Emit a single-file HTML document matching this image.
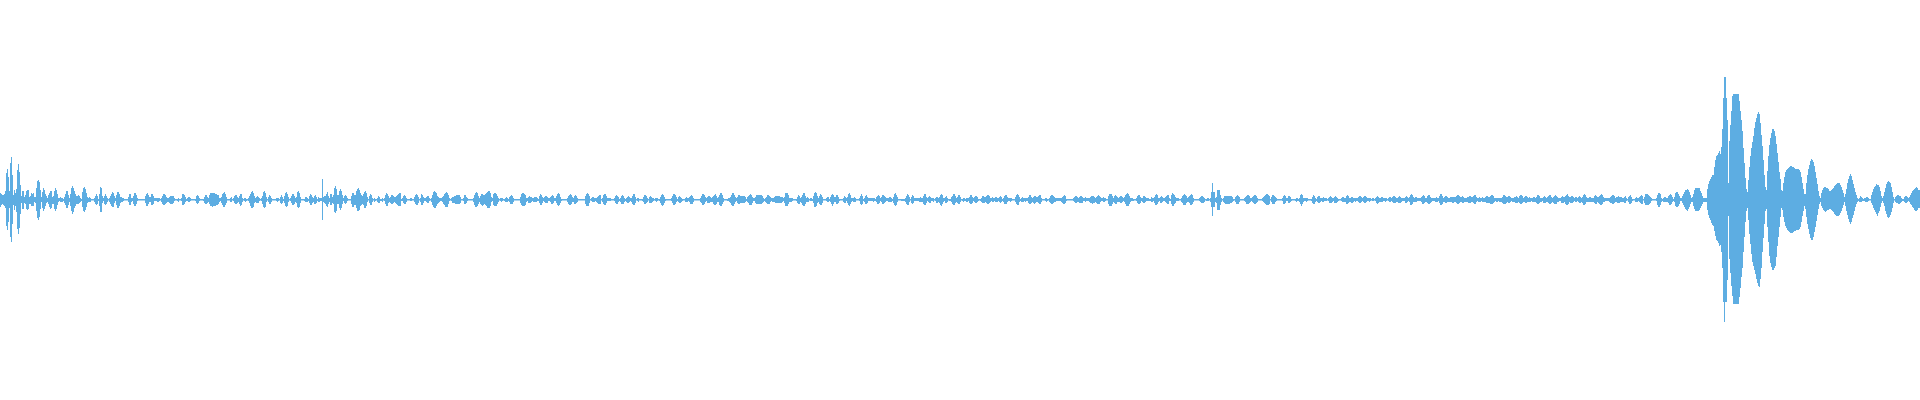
<!DOCTYPE html>
<html lang="en"><head><meta charset="utf-8"><title>Waveform</title>
<style>
html,body{margin:0;padding:0;background:#fff;}
body{width:1920px;height:400px;overflow:hidden;font-family:"Liberation Sans",sans-serif;}
svg{display:block;}
</style></head><body>
<svg width="1920" height="400" viewBox="0 0 1920 400">
<path fill="#5dade2" d="M0 193H1V194H2V195H4V194H5V191H6V173H7V169H8V177H9V191H10V163H11V157H12V175H13V195H14V190H15V193H16V189H17V170H18V164H19V172H20V185H21V196H22V191H24V197H25V195H26V191H27V190H29V197H30V196H31V193H32V194H33V193H34V197H36V188H37V181H38V180H39V182H40V190H41V197H42V192H43V188H44V190H45V194H46V196H47V198H48V195H49V193H50V191H52V197H53V196H54V191H55V188H56V190H57V194H58V198H60V197H61V198H63V199H64V197H65V194H66V191H68V195H69V198H70V194H71V188H72V186H73V188H74V191H75V194H76V196H78V195H79V196H80V198H81V199H82V192H83V188H84V187H85V189H86V193H87V197H88V198H89V197H90V198H91V199H94V198H95V196H96V194H97V196H98V199H99V194H100V187H101V188H102V196H103V198H104V196H105V194H106V196H107V198H108V199H109V198H110V196H111V194H112V192H113V193H114V196H115V198H116V195H117V192H119V194H120V197H122V198H124V199H128V197H129V194H131V198H133V196H134V193H136V195H137V198H138V199H145V196H146V194H147V193H148V195H149V197H151V194H153V196H154V198H160V199H161V198H162V196H163V194H165V195H166V197H167V198H169V197H170V196H174V198H175V199H178V198H179V199H181V198H182V194H184V195H185V197H186V199H187V198H188V197H190V198H191V199H196V196H197V195H198V196H199V198H200V199H204V197H205V195H207V197H208V198H209V195H210V193H215V194H217V195H219V198H221V197H222V194H223V193H224V192H225V194H226V197H227V199H230V198H231V197H232V199H233V198H234V196H235V195H237V197H238V198H239V196H240V194H242V198H243V199H244V198H246V199H248V198H249V196H250V194H251V192H252V191H253V193H254V196H255V198H256V197H257V196H258V197H259V198H260V199H261V198H262V196H263V192H264V191H265V193H266V197H267V199H268V197H269V195H270V196H271V198H272V199H276V198H279V199H280V197H281V195H282V197H283V199H284V196H285V193H286V192H287V194H288V197H289V199H290V198H291V196H292V194H294V196H295V198H296V197H297V192H298V191H299V193H300V197H301V199H305V197H307V198H308V199H309V196H310V194H311V195H312V197H313V198H314V196H315V195H316V197H317V199H318V197H319V198H322V179H323V197H324V196H326V194H327V192H328V196H329V198H330V194H332V197H333V195H334V188H335V186H336V189H337V195H339V191H340V189H341V191H342V195H343V198H344V196H345V195H346V196H347V198H348V199H351V196H352V193H354V195H356V191H357V189H358V188H359V190H360V193H361V195H362V196H363V194H364V192H365V191H366V193H367V197H368V199H369V196H370V194H371V195H372V198H373V199H374V198H375V199H377V198H378V196H379V197H380V199H382V198H383V199H384V198H385V195H386V193H387V194H388V196H389V198H390V197H391V195H393V196H394V197H396V196H397V195H398V194H399V193H401V199H402V198H403V196H404V195H405V196H406V198H407V199H410V198H412V199H414V197H415V195H416V194H417V195H418V197H419V199H420V198H421V194H422V195H423V197H424V198H426V197H427V196H429V198H430V199H431V198H432V195H433V192H434V191H435V192H436V193H437V196H438V197H439V198H442V197H443V196H444V194H445V193H446V192H447V193H448V195H449V198H450V199H451V198H452V197H454V196H456V195H460V197H461V199H463V198H464V195H466V197H467V198H468V199H473V198H474V195H475V193H476V192H477V193H478V196H479V198H480V196H481V194H483V195H485V194H486V193H487V192H488V191H490V193H491V197H492V198H493V194H494V193H496V194H497V196H498V198H499V199H500V198H503V199H505V198H506V197H507V198H508V199H509V197H510V196H511V195H512V196H513V198H514V199H520V197H521V194H522V193H524V194H525V195H526V198H528V197H529V196H530V197H532V198H534V197H537V198H538V199H539V196H540V194H541V195H542V197H543V198H544V197H545V196H547V197H548V198H550V197H551V196H552V195H553V196H554V198H556V196H557V194H558V193H559V194H560V197H561V199H567V198H568V196H569V195H570V194H571V195H572V197H573V198H574V196H575V195H576V196H577V198H578V199H585V196H586V194H587V193H588V194H589V196H590V199H591V198H592V197H594V198H597V197H598V196H599V195H601V199H602V198H603V195H604V194H606V196H607V198H611V199H614V198H615V196H616V195H617V196H618V197H619V199H620V198H621V196H622V195H623V196H624V198H625V199H626V198H627V197H628V196H629V197H630V198H632V196H633V194H635V197H636V199H637V198H639V199H643V197H644V195H646V196H647V198H648V199H649V197H650V196H651V197H652V198H654V199H655V198H658V199H660V197H661V195H662V194H663V195H664V197H665V199H671V198H672V196H673V194H675V195H676V197H677V199H678V197H679V196H680V197H681V198H682V199H685V198H686V197H687V198H689V197H690V196H691V195H692V196H693V198H694V199H700V198H701V196H702V194H704V195H705V197H706V198H707V197H708V196H710V197H711V198H712V197H713V196H714V195H715V194H716V196H717V198H718V197H719V195H720V193H722V195H723V198H724V199H728V198H730V197H731V195H732V193H734V195H735V197H736V198H737V197H738V195H740V196H745V197H746V199H747V197H748V196H749V195H750V194H751V195H752V197H753V198H755V197H756V195H762V196H763V198H764V199H765V198H766V197H767V195H769V196H770V197H771V198H774V197H775V196H780V197H783V198H784V197H785V193H788V195H789V198H793V199H797V197H798V195H799V196H800V198H801V197H802V195H803V193H805V196H806V198H807V197H808V198H809V199H810V198H812V199H813V196H814V193H815V192H816V193H817V196H818V198H819V196H820V194H821V195H822V197H823V199H826V198H827V197H829V199H830V197H831V195H832V194H833V195H834V197H836V195H838V197H839V199H843V198H844V196H845V197H846V198H847V197H848V194H849V193H850V195H851V198H854V197H855V198H856V199H859V198H860V196H861V194H862V196H863V199H864V198H865V196H866V195H867V197H868V198H875V199H876V197H877V196H878V195H879V196H880V198H881V197H882V195H884V196H885V197H886V198H889V197H891V198H892V199H893V197H894V194H895V193H896V195H897V197H898V199H905V198H906V196H907V194H908V195H909V197H910V199H911V197H912V195H913V196H914V198H920V197H921V198H923V196H924V194H926V197H927V198H928V197H929V196H930V197H931V198H934V199H935V198H936V197H938V198H939V197H940V195H941V194H942V195H943V198H945V197H946V196H947V198H948V199H951V197H952V196H953V194H955V196H956V198H957V197H958V195H960V197H961V199H963V198H965V199H966V198H969V197H970V195H972V197H973V198H974V197H975V196H977V197H978V199H981V198H982V196H984V197H986V196H987V195H989V196H990V198H992V197H993V198H995V197H997V198H999V197H1000V196H1001V197H1002V199H1003V198H1004V196H1005V195H1007V197H1008V198H1012V199H1015V197H1016V195H1017V194H1018V195H1019V197H1020V199H1021V198H1022V197H1023V198H1028V197H1029V195H1031V197H1032V198H1033V197H1034V196H1036V197H1038V196H1039V195H1041V198H1042V199H1045V198H1047V199H1049V198H1050V196H1051V195H1053V196H1054V197H1055V198H1062V197H1063V196H1064V195H1065V196H1066V199H1073V198H1074V197H1075V196H1077V197H1078V198H1079V197H1080V196H1082V197H1083V198H1085V197H1086V198H1090V197H1091V196H1094V197H1095V198H1096V197H1097V196H1098V195H1099V196H1100V197H1101V198H1103V197H1104V198H1106V199H1108V196H1109V194H1112V196H1113V198H1114V196H1115V195H1116V196H1117V197H1118V198H1119V197H1120V196H1122V197H1123V198H1124V197H1125V195H1126V194H1127V193H1128V194H1129V196H1130V198H1133V199H1136V198H1137V196H1138V195H1140V197H1141V198H1143V196H1145V197H1146V198H1149V199H1151V197H1152V198H1154V197H1155V195H1156V194H1157V195H1158V198H1160V197H1161V196H1162V197H1163V198H1165V197H1166V196H1167V195H1169V198H1170V199H1171V195H1172V193H1173V194H1174V195H1175V197H1176V198H1179V199H1181V198H1182V196H1183V195H1184V194H1185V195H1186V196H1187V198H1188V197H1189V196H1190V195H1191V194H1192V195H1193V198H1194V199H1199V198H1200V197H1201V196H1203V197H1204V198H1205V199H1207V198H1209V199H1210V198H1211V192H1212V183H1213V192H1215V198H1216V197H1217V190H1220V195H1221V198H1222V199H1223V198H1224V196H1232V197H1233V199H1235V197H1236V196H1237V195H1238V196H1239V197H1240V199H1244V198H1245V197H1246V196H1247V195H1249V196H1250V198H1252V197H1253V196H1254V195H1256V196H1257V198H1258V199H1262V198H1263V197H1264V196H1265V195H1266V194H1268V195H1269V196H1270V199H1271V197H1272V195H1274V196H1275V197H1276V198H1277V199H1282V198H1283V196H1284V195H1285V196H1286V198H1288V196H1290V197H1291V199H1296V198H1298V199H1299V198H1300V195H1301V194H1302V195H1303V198H1308V199H1312V197H1313V195H1314V196H1315V198H1316V199H1317V197H1318V196H1320V198H1323V197H1324V198H1327V199H1328V198H1329V197H1330V196H1331V197H1332V198H1334V197H1335V196H1336V197H1337V198H1338V199H1341V198H1342V197H1344V198H1346V196H1347V195H1348V196H1349V198H1351V197H1353V198H1358V197H1359V196H1361V197H1362V198H1363V197H1364V196H1366V197H1367V198H1371V199H1372V198H1374V199H1375V198H1376V197H1377V196H1378V197H1379V198H1381V197H1383V198H1387V199H1388V198H1389V197H1391V198H1392V197H1393V196H1395V197H1396V198H1398V197H1399V196H1400V197H1401V198H1405V197H1406V196H1407V197H1408V198H1409V197H1410V195H1411V194H1412V195H1413V197H1414V198H1415V197H1417V198H1421V197H1422V196H1423V195H1424V196H1425V198H1427V196H1428V195H1430V197H1431V198H1436V197H1437V198H1439V196H1440V194H1442V196H1443V198H1444V197H1445V196H1447V197H1448V198H1450V197H1456V196H1457V195H1459V196H1460V197H1462V196H1463V197H1464V198H1467V197H1469V196H1471V197H1473V196H1474V195H1476V197H1477V198H1479V197H1480V198H1482V197H1483V198H1485V197H1486V196H1488V197H1490V196H1491V195H1493V196H1494V198H1502V197H1503V195H1505V196H1506V197H1508V196H1510V197H1511V198H1514V197H1516V196H1517V197H1518V198H1519V196H1520V195H1522V196H1523V198H1524V197H1525V196H1527V197H1528V198H1529V197H1530V198H1533V197H1535V198H1536V197H1537V195H1539V196H1540V198H1543V197H1544V196H1545V197H1546V198H1547V197H1548V196H1549V195H1551V197H1552V198H1553V197H1554V196H1555V195H1556V196H1557V197H1558V198H1561V197H1562V196H1563V197H1565V196H1566V195H1567V194H1568V196H1569V197H1571V196H1573V197H1574V198H1575V197H1577V198H1578V197H1579V196H1580V197H1581V198H1582V197H1583V195H1584V194H1585V195H1586V197H1587V198H1589V197H1591V198H1594V196H1595V195H1596V196H1597V197H1599V196H1600V195H1601V194H1602V195H1603V197H1604V198H1610V197H1611V196H1612V195H1614V196H1615V198H1616V197H1618V196H1619V197H1622V198H1624V197H1625V196H1626V198H1627V199H1628V197H1629V196H1630V195H1631V197H1632V199H1635V198H1636V197H1637V198H1639V197H1640V196H1641V195H1642V196H1643V199H1644V197H1645V194H1648V195H1649V196H1650V197H1651V198H1652V199H1656V198H1657V195H1658V193H1660V194H1661V198H1662V199H1663V198H1664V197H1666V198H1668V196H1669V195H1670V194H1671V195H1672V197H1673V199H1674V197H1675V193H1676V192H1678V194H1679V196H1680V198H1682V196H1683V194H1684V192H1685V190H1687V189H1688V190H1689V192H1690V195H1691V198H1692V197H1693V194H1694V190H1695V188H1700V191H1701V193H1702V196H1703V198H1707V189H1708V184H1709V181H1710V179H1711V177H1712V175H1714V167H1715V160H1716V156H1717V155H1718V153H1719V151H1720V154H1721V147H1722V129H1723V98H1724V77H1726V98H1727V120H1728V183H1729V141H1730V125H1731V111H1732V96H1733V94H1739V101H1740V111H1741V120H1742V131H1743V148H1744V163H1745V178H1746V189H1747V192H1748V180H1749V167H1750V156H1751V148H1752V142H1753V136H1754V128H1755V122H1756V118H1757V114H1758V112H1759V114H1760V123H1761V135H1762V146H1763V160H1764V175H1765V187H1766V190H1767V171H1768V156H1769V145H1770V138H1771V133H1772V129H1774V131H1775V136H1776V144H1777V153H1778V162H1779V172H1780V179H1781V190H1782V191H1783V183H1784V177H1785V172H1786V170H1787V169H1788V168H1789V167H1790V166H1792V167H1794V168H1795V169H1799V170H1800V172H1801V177H1802V183H1803V189H1804V194H1806V183H1807V175H1808V169H1809V165H1810V161H1811V159H1812V160H1813V162H1814V166H1815V172H1816V178H1817V184H1818V191H1819V196H1820V198H1821V193H1822V190H1823V188H1824V187H1826V188H1828V189H1829V191H1831V190H1832V189H1833V188H1834V186H1835V185H1836V184H1837V183H1840V185H1841V187H1842V190H1843V193H1844V197H1845V194H1846V189H1847V183H1848V179H1849V176H1850V174H1851V176H1852V180H1853V184H1854V188H1855V192H1856V195H1857V198H1858V199H1859V198H1860V196H1861V197H1862V198H1863V199H1864V198H1866V197H1868V198H1869V199H1871V195H1872V192H1873V189H1874V187H1875V186H1876V184H1877V185H1879V187H1880V191H1881V196H1882V198H1883V196H1884V192H1885V188H1886V184H1887V182H1888V181H1889V182H1890V183H1891V187H1892V192H1893V197H1894V199H1895V197H1896V196H1897V195H1899V196H1901V198H1902V199H1904V197H1905V196H1907V197H1908V198H1909V197H1910V195H1911V193H1912V191H1913V190H1914V189H1915V188H1916V187H1917V188H1918V190H1920V208H1918V210H1917V211H1915V210H1914V208H1913V207H1912V205H1911V204H1910V202H1909V201H1908V202H1907V203H1905V202H1904V201H1902V202H1901V203H1900V204H1898V203H1896V202H1895V200.5H1894V203H1893V208H1892V212H1891V215H1890V217H1889V218H1888V217H1887V214H1886V211H1885V206H1884V203H1883V201H1882V203H1881V207H1880V211H1879V213H1878V216H1877V214H1876V212H1875V210H1874V208H1873V205H1872V203H1871V200.5H1869V201H1868V202H1865V201H1862V202H1859V201H1858V202H1857V204H1856V207H1855V211H1854V215H1853V218H1852V222H1851V224H1850V222H1849V219H1848V215H1847V211H1846V206H1845V202H1844V205H1843V208H1842V211H1841V213H1840V215H1839V216H1836V215H1835V214H1834V212H1833V211H1832V210H1831V209H1829V210H1827V211H1826V212H1825V211H1824V210H1823V208H1822V206H1821V202H1820V204H1819V209H1818V215H1817V221H1816V227H1815V232H1814V237H1813V240H1811V238H1810V234H1809V229H1808V224H1807V217H1806V209H1805V206H1804V211H1803V216H1802V222H1801V227H1800V229H1799V230H1796V231H1794V232H1793V233H1790V232H1789V231H1788V230H1787V228H1786V226H1785V222H1784V217H1783V210H1782V208H1781V217H1780V227H1779V237H1778V246H1777V257H1776V266H1775V268H1774V270H1772V267H1771V263H1770V256H1769V242H1768V227H1767V209H1766V211H1765V224H1764V238H1763V252H1762V268H1761V279H1760V287H1759V286H1758V283H1757V279H1756V274H1755V270H1754V266H1753V262H1752V254H1751V244H1750V234H1749V220H1748V208H1747V211H1746V222H1745V237H1744V252H1743V268H1742V277H1741V288H1740V297H1739V304H1733V296H1732V286H1731V273H1730V259H1729V216H1728V280H1727V302H1725V322H1724V302H1723V268H1722V252H1721V245H1720V246H1719V243H1718V241H1717V240H1716V236H1715V231H1714V226H1713V225H1712V223H1711V220H1710V218H1709V215H1708V210H1707V202H1703V204H1702V206H1701V208H1700V210H1699V211H1695V209H1694V206H1693V202H1691V204H1690V207H1689V209H1688V211H1687V210H1686V209H1685V207H1684V205H1683V203H1682V201H1680V204H1679V206H1678V207H1676V206H1675V202H1674V201H1673V202H1672V204H1671V205H1669V203H1668V202H1663V201H1662V202H1661V205H1660V207H1658V205H1657V201H1656V200.5H1652V201H1651V203H1650V204H1649V205H1645V203H1644V200.5H1643V204H1641V203H1640V202H1639V201H1638V202H1635V200.5H1633V201H1632V203H1631V204H1629V202H1628V200.5H1627V201H1626V203H1624V202H1620V203H1617V202H1615V203H1614V204H1612V203H1610V202H1609V201H1605V202H1603V204H1602V205H1600V204H1599V203H1598V202H1597V204H1595V203H1594V202H1586V204H1585V205H1583V203H1582V202H1581V203H1579V202H1578V201H1577V202H1575V201H1574V202H1573V203H1570V202H1569V204H1568V205H1566V204H1565V202H1564V203H1561V201H1559V202H1557V204H1554V203H1553V202H1552V203H1551V204H1549V203H1548V202H1546V203H1543V201H1542V202H1540V203H1539V204H1537V203H1536V202H1532V201H1531V202H1527V203H1525V202H1523V203H1522V204H1520V203H1519V202H1518V203H1515V202H1512V201H1511V202H1510V203H1508V202H1507V203H1506V204H1503V203H1502V202H1499V201H1498V202H1496V201H1495V202H1494V203H1493V204H1490V203H1486V202H1482V201H1481V202H1478V201H1477V202H1476V204H1474V203H1473V202H1471V203H1468V202H1464V203H1462V202H1460V203H1459V204H1457V203H1456V202H1454V203H1452V202H1447V203H1445V202H1443V204H1442V205H1440V203H1439V201H1438V202H1435V201H1432V202H1431V203H1430V204H1428V203H1427V202H1425V203H1424V204H1422V202H1421V201H1417V202H1413V204H1412V205H1410V202H1409V201H1408V202H1407V203H1405V201H1402V202H1401V203H1398V202H1396V203H1393V202H1392V201H1391V202H1389V201H1388V200.5H1387V201H1386V202H1385V201H1383V202H1379V203H1378V204H1377V203H1376V201H1375V200.5H1374V201H1372V200.5H1371V201H1370V202H1369V201H1367V202H1366V203H1364V202H1363V201H1362V202H1361V203H1359V202H1358V201H1356V202H1355V201H1354V202H1353V203H1351V202H1349V203H1348V204H1346V202H1342V201H1341V200.5H1339V201H1338V202H1337V203H1334V201H1333V202H1332V203H1329V201H1328V200.5H1327V201H1324V202H1322V201H1321V202H1320V203H1318V202H1317V201H1316V202H1315V204H1313V203H1312V201H1311V200.5H1308V201H1307V202H1306V201H1304V202H1303V204H1302V206H1301V204H1300V202H1299V201H1297V202H1296V201H1295V200.5H1292V201H1291V202H1290V203H1288V201H1286V203H1285V204H1283V201H1282V200.5H1277V201H1276V202H1275V204H1272V202H1271V200.5H1270V204H1269V205H1266V204H1265V203H1264V202H1263V201H1262V200.5H1258V202H1257V203H1256V204H1254V203H1253V202H1252V201H1251V202H1250V203H1249V204H1246V202H1245V201H1244V200.5H1240V202H1239V204H1236V202H1235V200.5H1234V201H1233V202H1232V203H1230V204H1225V203H1224V202H1223V200.5H1222V202H1221V205H1220V210H1217V203H1216V202H1215V207H1213V216H1212V207H1211V202H1210V200.5H1209V201H1206V200.5H1205V202H1204V203H1201V202H1200V201H1199V200.5H1194V202H1193V204H1192V205H1190V203H1189V202H1187V203H1186V205H1183V203H1182V202H1181V200.5H1179V201H1176V203H1175V204H1174V206H1172V204H1171V201H1169V204H1167V203H1166V202H1165V201H1163V202H1162V203H1160V201H1159V202H1158V204H1157V205H1155V203H1154V201H1153V202H1151V201H1146V202H1145V203H1143V202H1142V201H1141V203H1140V204H1138V203H1137V201H1136V200.5H1134V201H1131V202H1130V204H1129V206H1126V204H1125V202H1124V201H1123V202H1122V203H1120V202H1117V204H1115V203H1114V202H1113V204H1112V206H1109V204H1108V200.5H1106V201H1105V202H1103V201H1101V202H1100V204H1097V203H1096V202H1095V203H1093V204H1092V203H1090V202H1089V201H1086V202H1085V201H1083V203H1079V202H1077V203H1075V202H1074V201H1073V200.5H1067V201H1066V203H1065V204H1063V203H1062V202H1061V201H1056V202H1054V203H1053V204H1051V203H1050V202H1049V200.5H1048V201H1047V202H1046V201H1045V200.5H1042V202H1041V204H1039V203H1038V202H1036V203H1035V204H1034V203H1033V202H1032V203H1031V204H1029V203H1028V201H1026V202H1025V201H1024V202H1021V201H1020V202H1019V205H1017V204H1016V202H1015V200.5H1012V201H1011V202H1010V201H1008V202H1007V204H1004V202H1003V201H1002V202H1001V203H1000V202H999V201H998V202H995V201H994V202H992V201H991V202H990V203H989V204H987V203H986V202H985V203H982V202H981V201H980V200.5H979V201H978V202H977V203H975V202H974V201H973V203H972V204H970V203H969V201H968V202H966V201H964V202H963V201H962V200.5H961V202H960V204H958V203H957V202H956V203H955V205H953V204H952V202H951V201H949V200.5H948V202H947V203H945V201H944V202H943V204H942V206H941V205H940V203H939V202H938V203H936V201H935V200.5H934V202H933V201H931V203H929V202H928V201H927V203H926V205H924V204H923V202H919V201H914V203H913V204H912V203H911V200.5H910V202H909V205H907V204H906V202H905V201H901V200.5H898V202H897V205H896V206H895V205H894V203H893V201H892V202H888V201H886V202H885V203H884V204H882V202H881V201H880V203H879V204H877V202H876V201H874V202H873V201H868V203H867V204H865V202H864V201H863V204H862V205H861V204H860V201H859V200.5H856V202H853V201H852V202H851V204H850V206H849V205H848V203H847V201H846V203H844V202H843V200.5H840V201H839V203H838V204H836V202H834V204H833V206H832V204H831V202H830V201H829V202H827V201H826V200.5H823V203H822V205H820V204H819V202H818V203H817V206H816V207H814V203H813V201H810V200.5H809V202H806V204H805V206H803V205H802V203H801V202H800V204H798V203H797V201H796V200.5H793V201H792V202H789V204H788V206H785V203H784V201H783V202H782V203H775V202H772V201H771V202H770V204H767V203H766V202H765V201H764V202H763V203H762V204H756V203H755V201H753V203H752V205H749V203H748V202H747V201H746V202H745V203H740V204H738V203H737V201H736V202H735V204H734V206H732V205H731V203H730V202H729V201H727V200.5H724V202H723V204H722V206H720V205H719V202H717V204H716V205H714V204H713V202H710V203H707V201H706V202H705V204H704V205H702V203H701V202H700V200.5H694V202H693V204H690V202H689V201H688V202H685V200.5H683V201H682V202H681V203H679V202H678V201H677V202H676V204H675V205H673V203H672V201H671V200.5H666V201H665V203H664V205H663V206H662V205H661V203H660V201H659V200.5H658V201H657V202H656V201H655V200.5H654V201H653V202H652V203H649V200.5H648V202H647V203H646V204H644V202H643V201H642V200.5H639V202H638V201H637V200.5H636V203H635V205H633V204H632V202H631V201H630V202H629V203H627V202H626V201H625V202H624V204H621V202H620V201H619V202H618V204H616V203H615V201H614V200.5H611V201H607V203H606V205H604V204H603V202H602V200.5H601V204H598V203H597V202H596V201H595V202H592V201H591V200.5H590V203H589V206H586V204H585V200.5H578V202H577V203H576V204H574V202H572V204H571V205H569V204H568V202H567V200.5H562V201H561V203H560V205H559V206H558V205H557V203H556V201H554V203H553V204H551V202H550V201H548V203H545V202H544V201H543V203H542V205H540V203H539V201H537V202H533V201H532V202H531V203H528V201H527V202H526V205H525V206H522V205H521V203H520V200.5H514V202H513V204H510V202H509V201H508V202H505V201H504V200.5H503V201H502V202H501V201H500V200.5H499V202H498V204H497V206H494V205H493V201H492V202H491V206H490V208H487V206H486V205H485V204H484V205H483V206H482V205H481V204H480V202H479V204H478V206H477V207H475V205H474V202H473V200.5H468V201H467V203H466V204H464V201H463V200.5H461V203H460V204H455V203H452V201H451V200.5H450V201H449V204H448V207H445V205H444V204H443V202H442V201H440V202H439V203H438V204H437V206H436V208H434V207H433V205H432V202H431V200.5H430V201H429V203H427V202H426V201H424V203H423V205H421V202H420V200.5H419V203H418V205H416V204H415V202H414V200.5H412V201H410V200.5H407V202H406V204H404V203H403V201H401V206H398V205H397V204H396V203H395V202H394V203H393V204H391V203H390V202H389V203H388V206H386V204H385V201H384V200.5H383V202H382V201H380V203H378V202H377V200.5H376V201H375V202H374V200.5H373V202H372V205H370V203H369V200.5H368V202H367V206H366V208H364V205H363V204H362V205H361V206H360V210H359V211H357V208H356V205H354V207H352V204H351V200.5H348V201H347V203H346V204H345V203H344V201H343V204H342V208H341V210H340V208H339V204H337V211H336V213H335V212H334V204H333V203H332V205H330V202H329V204H328V207H327V206H326V204H325V203H324V202H323V220H322V201H320V202H318V201H317V203H316V204H314V202H313V203H312V205H310V203H309V201H308V202H305V201H304V200.5H301V203H300V207H299V208H298V207H297V203H296V202H295V204H294V205H292V203H291V201H290V200.5H289V202H288V206H287V207H286V206H285V203H284V201H283V203H282V204H281V203H280V200.5H279V201H278V202H277V201H276V200.5H272V202H271V204H269V202H268V200.5H267V202H266V207H265V208H264V207H263V204H262V201H261V200.5H260V201H259V203H256V202H255V203H254V207H253V208H251V206H250V203H249V201H248V200.5H247V201H246V202H245V201H244V200.5H243V202H242V205H241V206H240V204H239V202H238V203H237V204H235V203H234V201H233V200.5H232V202H230V200.5H227V203H226V205H225V207H223V205H222V203H221V201H220V202H219V204H218V205H216V206H213V207H212V206H210V204H209V202H208V203H207V204H205V203H204V201H203V200.5H200V201H199V203H198V204H197V203H196V201H195V200.5H191V201H190V202H188V201H186V202H185V204H184V205H182V201H181V200.5H179V202H178V201H177V200.5H175V201H174V203H173V204H170V203H169V202H167V203H166V204H165V205H163V204H162V202H161V200.5H160V201H159V202H157V201H154V204H153V205H151V202H149V204H148V206H146V203H145V200.5H138V201H137V204H136V206H134V204H133V201H132V202H131V205H129V202H128V200.5H124V201H123V202H121V203H120V206H119V208H117V205H116V201H115V203H114V207H112V206H111V204H110V202H109V200.5H108V202H107V204H106V205H105V204H104V201H103V203H102V212H100V206H99V201H98V204H97V205H96V204H95V202H94V200.5H91V202H88V203H87V207H86V210H85V212H84V211H83V207H82V201H81V202H80V203H79V204H76V206H75V208H74V212H73V214H72V211H71V206H70V202H69V205H68V208H66V205H65V203H64V201H63V202H60V201H59V202H58V205H57V209H56V211H55V209H54V204H52V208H51V209H50V207H49V204H48V202H47V203H46V206H45V209H44V211H43V208H42V202H41V209H40V217H39V220H38V218H37V211H36V203H35V202H34V206H31V204H29V209H28V210H27V209H26V204H25V203H24V209H22V203H21V214H20V228H19V234H18V229H17V212H16V206H15V210H14V205H13V224H12V242H11V237H10V208H9V222H8V230H7V226H6V208H5V206H4V205H3V204H2V205H1V207H0Z"/>
</svg>
</body></html>
